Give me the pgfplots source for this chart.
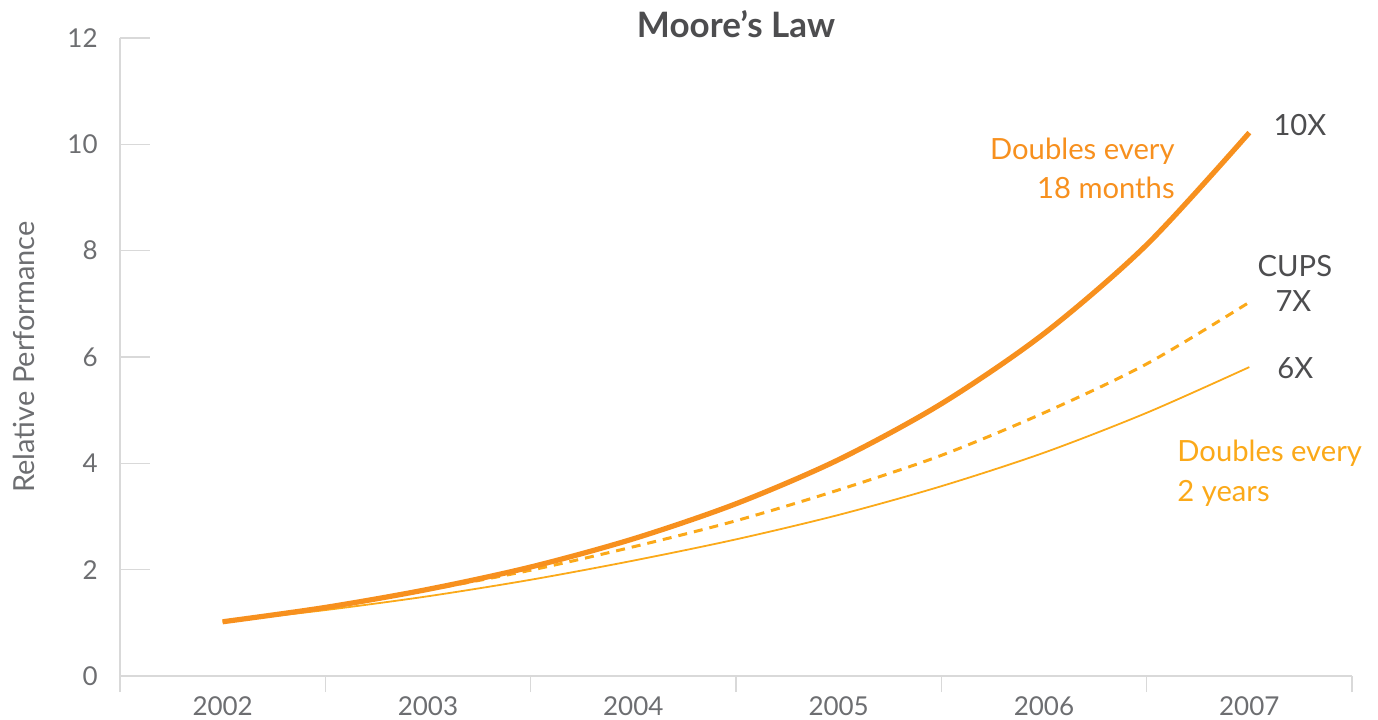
\documentclass[border=0pt]{standalone}
\usepackage{fontspec}
\setmainfont{Lato}
\usepackage{pgfplots}
\pgfplotsset{compat=1.18}

\definecolor{mooreorange}{HTML}{F7901E}
\definecolor{amber}{HTML}{FBA919}
\definecolor{axisgray}{HTML}{D9D9D9}
\definecolor{ticktext}{HTML}{6D6E71}
\definecolor{labeltext}{HTML}{4D4D4F}

\begin{document}
\begin{tikzpicture}
\useasboundingbox (-60pt,-21.5pt) rectangle (629pt,338pt);
\begin{axis}[
  at={(0,0)}, anchor=south west,
  width=616pt, height=319pt, scale only axis,
  xmin=-0.5, xmax=5.5, ymin=0, ymax=12,
  axis x line=bottom, axis y line=left,
  axis line style={-, draw=axisgray, line width=0.75pt},
  xtick={0,1,2,3,4,5},
  xticklabels={2002,2003,2004,2005,2006,2007},
  ytick={0,2,4,6,8,10,12},
  tick align=inside, major tick length=15pt,
  xtick style={draw=none},
  ytick style={draw=axisgray, line width=0.75pt},
  extra x ticks={-0.5,0.5,1.5,2.5,3.5,4.5,5.5},
  extra x tick labels={},
  extra x tick style={tick align=outside, major tick length=8pt,
    xtick style={draw=axisgray, line width=0.75pt}},
  /pgf/number format/assume math mode=true,
  tick label style={font=\fontsize{13}{15}\selectfont, text=ticktext},
  yticklabel style={anchor=east, inner sep=0pt, xshift=-11pt},
  xticklabel style={anchor=north, inner sep=0pt, yshift=-10pt},
  clip=false,
]
% doubling every two years
\addplot[amber, line width=0.9pt, smooth] coordinates {
  (0,1.02) (0.5,1.24) (1,1.50) (1.5,1.81) (2,2.17) (2.5,2.57)
  (3,3.03) (3.5,3.57) (4,4.20) (4.5,4.95) (5,5.81)};
% CUPS
\addplot[amber, line width=1.5pt, smooth, dash pattern=on 4.5pt off 3.5pt] coordinates {
  (0,1.02) (0.5,1.29) (1,1.62) (1.5,1.99) (2,2.43) (2.5,2.92)
  (3,3.50) (3.5,4.15) (4,4.95) (4.5,5.87) (5,7.03)};
% doubling every 18 months
\addplot[mooreorange, line width=2.6pt, smooth] coordinates {
  (0,1.02) (0.5,1.29) (1,1.63) (1.5,2.05) (2,2.58) (2.5,3.24)
  (3,4.07) (3.5,5.12) (4,6.44) (4.5,8.11) (5,10.22)};

\node[anchor=base, inner sep=0pt, font=\bfseries\fontsize{17.5}{21}\selectfont, text=labeltext]
  at (rel axis cs:0.5,1) {Moore’s Law};
\node[anchor=base, inner sep=0pt, rotate=90, font=\fontsize{14.5}{17}\selectfont, text=ticktext]
  at ([xshift=-42.5pt]rel axis cs:0,0.5) {Relative Performance};

\begin{scope}[every node/.style={inner sep=0pt, font=\fontsize{14.6}{17}\selectfont}]
  \node[anchor=base east, text=mooreorange] at (axis cs:4.638,9.72) {Doubles every};
  \node[anchor=base east, text=mooreorange] at (axis cs:4.638,8.99) {18 months};
  \node[anchor=base west, text=amber] at (axis cs:4.648,4.03) {Doubles every};
  \node[anchor=base west, text=amber] at (axis cs:4.648,3.29) {2 years};
  \node[anchor=base west, text=labeltext] at (axis cs:5.116,10.16) {10X};
  \node[anchor=base, text=labeltext] at (axis cs:5.222,7.51) {CUPS};
  \node[anchor=base, text=labeltext] at (axis cs:5.215,6.85) {7X};
  \node[anchor=base west, text=labeltext] at (axis cs:5.135,5.59) {6X};
\end{scope}
\end{axis}
\end{tikzpicture}
\end{document}
